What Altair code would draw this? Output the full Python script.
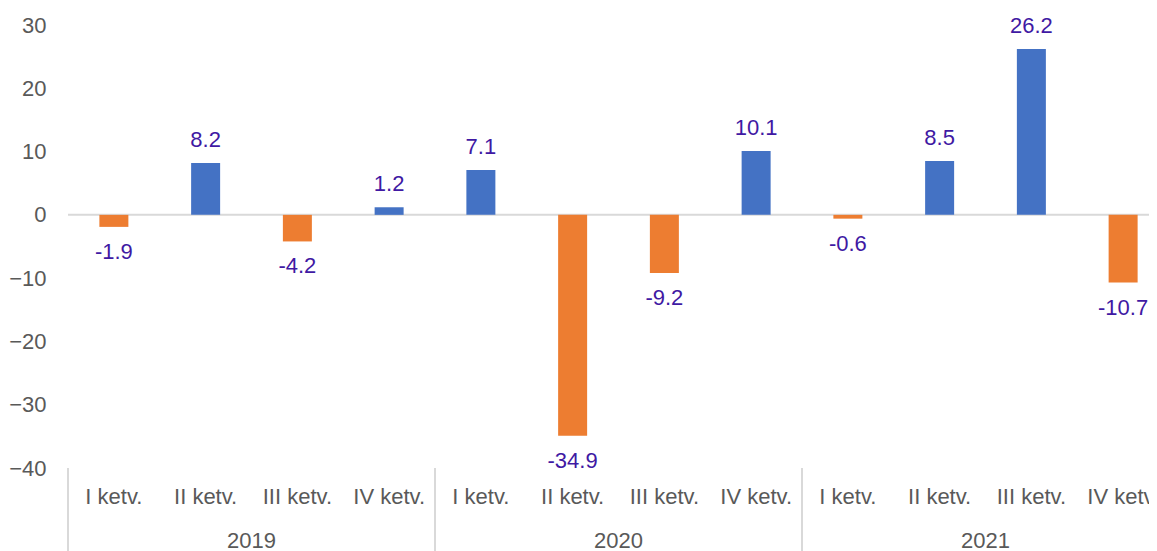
import altair as alt
import pandas as pd

quarters = ["I ketv.", "II ketv.", "III ketv.", "IV ketv."] * 3
years = ["2019"] * 4 + ["2020"] * 4 + ["2021"] * 4
values = [-1.9, 8.2, -4.2, 1.2, 7.1, -34.9, -9.2, 10.1, -0.6, 8.5, 26.2, -10.7]
year_labels = ["2019", "2020", "2021"]

df = pd.DataFrame({
    "idx": list(range(len(values))),
    "quarter": quarters,
    "year": years,
    "value": values,
    "label": [f"{v:.1f}" for v in values],
})
df["sign"] = ["pos" if v >= 0 else "neg" for v in values]

year_df = pd.DataFrame({
    "year": year_labels,
    "start": [-0.5, 3.5, 7.5],
    "mid": [1.5, 5.5, 9.5],
})

W = 1081
H = 443
FONT = "Liberation Sans"

# the last category group runs past the right edge of the picture, as in the reference
xs = alt.Scale(domain=[-0.5, 11.282], nice=False, zero=False, padding=0)
ys = alt.Scale(domain=[-40, 30], nice=False, zero=False)

base = alt.Chart(df)

bars = base.mark_bar(width=29).encode(
    x=alt.X("idx:Q", scale=xs, axis=None),
    y=alt.Y("value:Q", scale=ys, title=None,
            axis=alt.Axis(values=[-40, -30, -20, -10, 0, 10, 20, 30], grid=False, domain=False,
                          ticks=False, labelFontSize=22, labelColor="#595959", labelFont=FONT,
                          labelPadding=22)),
    color=alt.Color("sign:N", scale=alt.Scale(domain=["pos", "neg"], range=["#4472C4", "#ED7D31"]),
                    legend=None),
)

zero = alt.Chart(pd.DataFrame({"z": [0]})).mark_rule(color="#D9D9D9", strokeWidth=2).encode(
    y=alt.Y("z:Q", scale=ys), x=alt.value(0), x2=alt.value(W)
)

pos_lbl = base.transform_filter("datum.value >= 0").mark_text(
    dy=-23, fontSize=22, font=FONT, color="#4019A3", baseline="middle"
).encode(x=alt.X("idx:Q", scale=xs, axis=None), y=alt.Y("value:Q", scale=ys), text="label:N")

neg_lbl = base.transform_filter("datum.value < 0").mark_text(
    dy=25, fontSize=22, font=FONT, color="#4019A3", baseline="middle"
).encode(x=alt.X("idx:Q", scale=xs, axis=None), y=alt.Y("value:Q", scale=ys), text="label:N")

q_lbl = base.mark_text(fontSize=22, font=FONT, color="#595959", baseline="middle").encode(
    x=alt.X("idx:Q", scale=xs, axis=None), y=alt.value(472), text="quarter:N"
)

seps = alt.Chart(year_df).mark_rule(color="#D9D9D9", strokeWidth=2).encode(
    x=alt.X("start:Q", scale=xs, axis=None), y=alt.value(H), y2=alt.value(530)
)

y_lbl = alt.Chart(year_df).mark_text(fontSize=22, font=FONT, color="#595959", baseline="middle").encode(
    x=alt.X("mid:Q", scale=xs, axis=None),
    y=alt.value(516), text="year:N"
)

chart = alt.layer(zero, bars, pos_lbl, neg_lbl, q_lbl, seps, y_lbl).properties(
    width=W, height=H,
    autosize=alt.AutoSizeParams(type="none"),
    padding={"left": 60, "top": 17, "right": 0, "bottom": 83},
    background="white",
).configure_view(stroke=None)

chart.save("out.html", embed_options={"renderer": "svg", "actions": False})
